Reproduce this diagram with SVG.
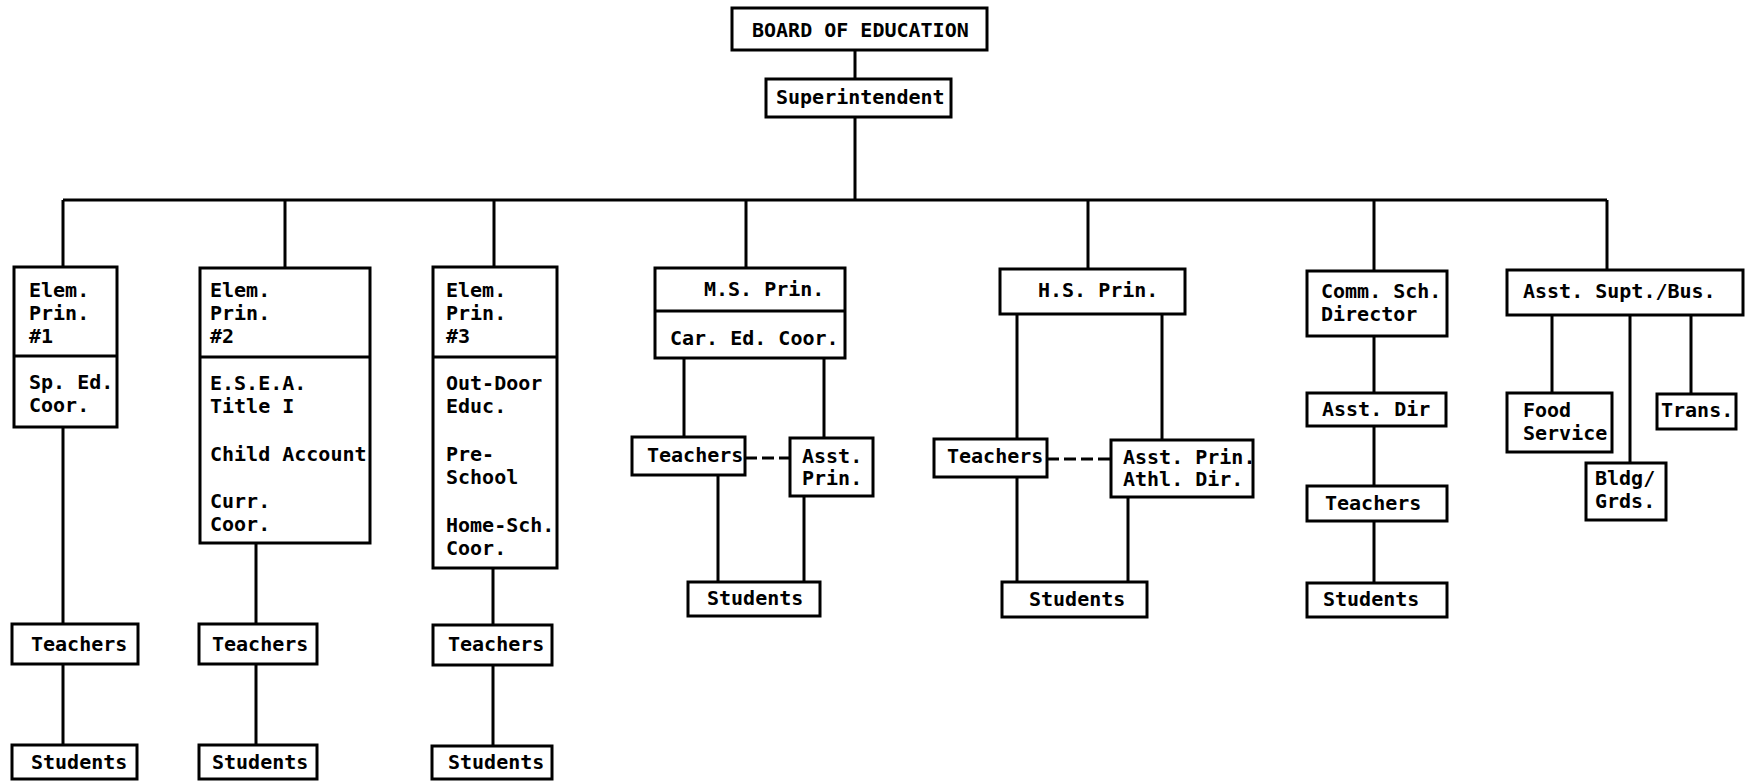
<svg xmlns="http://www.w3.org/2000/svg" width="1746" height="781" viewBox="0 0 1746 781">
<style>
.box{fill:#fff;stroke:#000;stroke-width:3}
.div{stroke:#000;stroke-width:3}
.ln{stroke:#000;stroke-width:3;fill:none}
.dash{stroke:#000;stroke-width:3;fill:none;stroke-dasharray:12 5}
text{font-family:"DejaVu Sans Mono","Liberation Mono",monospace;font-weight:bold;font-size:20px;fill:#000}
</style>
<rect width="1746" height="781" fill="#fff"/>
<g id="connectors">
<path class="ln" d="M855 50V79M855 117V200M63 200H1607"/>
<path class="ln" d="M63 200V267M285 200V268M494 200V267M746 200V268M1088 200V269M1374 200V271M1607 200V270"/>
<path class="ln" d="M63 427V624M63 664V745M256 543V624M256 664V745M493 568V625M493 665V746"/>
<path class="ln" d="M684 358V437M824 358V438M718 475V582M804 496V582"/>
<path class="dash" d="M745 458H790"/>
<path class="ln" d="M1017 314V439M1162 314V440M1017 477V582M1128 497V582"/>
<path class="dash" d="M1047 459H1111"/>
<path class="ln" d="M1374 336V393M1374 426V486M1374 521V583"/>
<path class="ln" d="M1552 315V393M1630 315V463M1691 315V394"/>
</g>
<g id="board"><rect class="box" x="732" y="8" width="255" height="42"/><text x="752" y="37">BOARD OF EDUCATION</text></g>
<g id="superintendent"><rect class="box" x="766" y="79" width="185" height="38"/><text x="776" y="104">Superintendent</text></g>
<g id="elem1"><rect class="box" x="14" y="267" width="103" height="160"/><line class="div" x1="14" y1="356" x2="117" y2="356"/>
<text x="29" y="297">Elem.</text><text x="29" y="320">Prin.</text><text x="29" y="343">#1</text>
<text x="29" y="389">Sp. Ed.</text><text x="29" y="412">Coor.</text></g>
<g id="elem2"><rect class="box" x="200" y="268" width="170" height="275"/><line class="div" x1="200" y1="357" x2="370" y2="357"/>
<text x="210" y="297">Elem.</text><text x="210" y="320">Prin.</text><text x="210" y="343">#2</text>
<text x="210" y="390">E.S.E.A.</text><text x="210" y="413">Title I</text>
<text x="210" y="461">Child Account</text>
<text x="210" y="508">Curr.</text><text x="210" y="531">Coor.</text></g>
<g id="elem3"><rect class="box" x="433" y="267" width="124" height="301"/><line class="div" x1="433" y1="357" x2="557" y2="357"/>
<text x="446" y="297">Elem.</text><text x="446" y="320">Prin.</text><text x="446" y="343">#3</text>
<text x="446" y="390">Out-Door</text><text x="446" y="413">Educ.</text>
<text x="446" y="461">Pre-</text><text x="446" y="484">School</text>
<text x="446" y="532">Home-Sch.</text><text x="446" y="555">Coor.</text></g>
<g id="ms-prin"><rect class="box" x="655" y="268" width="190" height="90"/><line class="div" x1="655" y1="311" x2="845" y2="311"/>
<text x="704" y="296">M.S. Prin.</text><text x="670" y="345">Car. Ed. Coor.</text></g>
<g id="ms-teachers"><rect class="box" x="632" y="437" width="113" height="38"/><text x="647" y="462">Teachers</text></g>
<g id="ms-asst"><rect class="box" x="790" y="438" width="83" height="58"/><text x="802" y="463">Asst.</text><text x="802" y="485">Prin.</text></g>
<g id="ms-students"><rect class="box" x="688" y="582" width="132" height="34"/><text x="707" y="605">Students</text></g>
<g id="hs-prin"><rect class="box" x="1000" y="269" width="185" height="45"/><text x="1038" y="297">H.S. Prin.</text></g>
<g id="hs-teachers"><rect class="box" x="934" y="439" width="113" height="38"/><text x="947" y="463">Teachers</text></g>
<g id="hs-asst"><rect class="box" x="1111" y="440" width="142" height="57"/><text x="1123" y="464">Asst. Prin.</text><text x="1123" y="486">Athl. Dir.</text></g>
<g id="hs-students"><rect class="box" x="1002" y="582" width="145" height="35"/><text x="1029" y="606">Students</text></g>
<g id="comm-dir"><rect class="box" x="1307" y="271" width="140" height="65"/><text x="1321" y="298">Comm. Sch.</text><text x="1321" y="321">Director</text></g>
<g id="comm-asst"><rect class="box" x="1307" y="393" width="139" height="33"/><text x="1322" y="416">Asst. Dir</text></g>
<g id="comm-teachers"><rect class="box" x="1307" y="486" width="140" height="35"/><text x="1325" y="510">Teachers</text></g>
<g id="comm-students"><rect class="box" x="1307" y="583" width="140" height="34"/><text x="1323" y="606">Students</text></g>
<g id="asst-supt"><rect class="box" x="1507" y="270" width="236" height="45"/><text x="1523" y="298">Asst. Supt./Bus.</text></g>
<g id="food"><rect class="box" x="1507" y="393" width="105" height="59"/><text x="1523" y="417">Food</text><text x="1523" y="440">Service</text></g>
<g id="trans"><rect class="box" x="1657" y="394" width="79" height="35"/><text x="1661" y="417">Trans.</text></g>
<g id="bldg"><rect class="box" x="1586" y="463" width="80" height="57"/><text x="1595" y="485">Bldg/</text><text x="1595" y="508">Grds.</text></g>
<g id="t1"><rect class="box" x="12" y="624" width="126" height="40"/><text x="31" y="651">Teachers</text></g>
<g id="s1"><rect class="box" x="12" y="745" width="125" height="34"/><text x="31" y="769">Students</text></g>
<g id="t2"><rect class="box" x="199" y="624" width="118" height="40"/><text x="212" y="651">Teachers</text></g>
<g id="s2"><rect class="box" x="199" y="745" width="118" height="34"/><text x="212" y="769">Students</text></g>
<g id="t3"><rect class="box" x="433" y="625" width="119" height="40"/><text x="448" y="651">Teachers</text></g>
<g id="s3"><rect class="box" x="432" y="746" width="120" height="33"/><text x="448" y="769">Students</text></g>
</svg>
